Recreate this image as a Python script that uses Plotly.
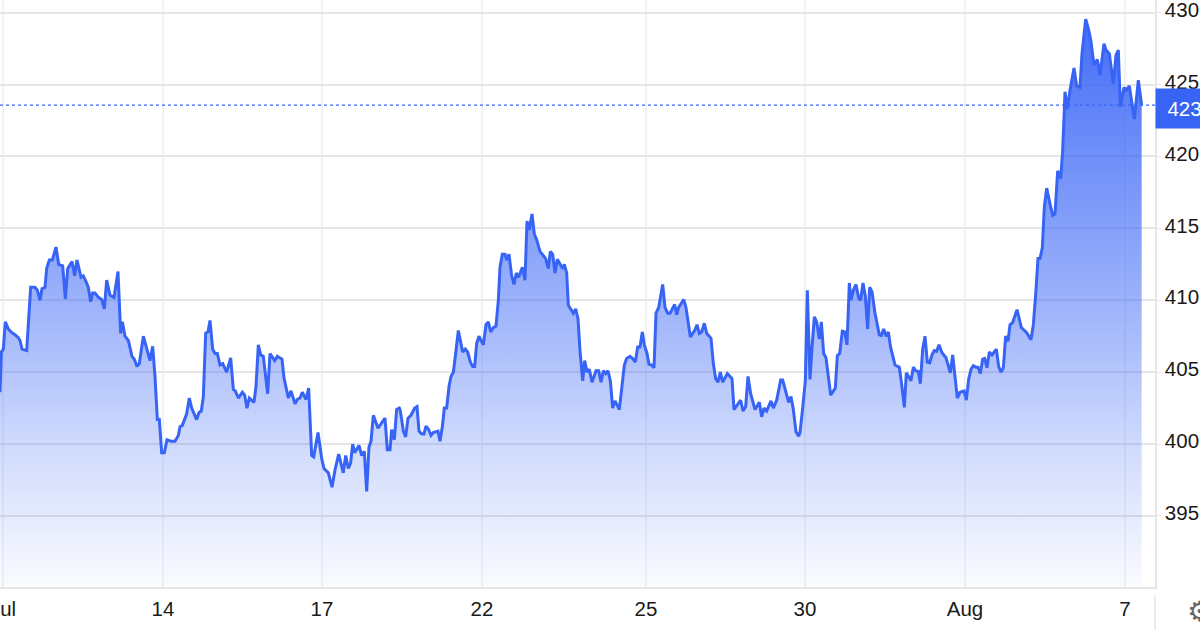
import plotly.graph_objects as go

# Time position along the axis (slots of 20 s of the reference scale), one list per stretch, and prices
slots_a = [0,4,10,16,25,35,45,55,60,66,80,85,92,105,112,120,126,135,140,148,157,168,176,188,196,203,216,224,231,243,250,258,265,272,278,285,295,305,313,320,330,342,354,362,367,375,385,396,403,411,418,430,450,458,465,472,478,485,493,501,512,525,535,540,547,560,568,575,590,597,604,610,617,624,630,638,645,652,660,668,680,692,700,706,715,727,734,741,748,762,768,775,782,790,803,810,824,832,846,852,865,873,885,892,900,907,918,926,935,941,954,965,972,985,996,1005,1016,1030,1037,1045,1052,1058,1064,1077,1085,1093,1100,1107,1113,1120,1134,1155,1162,1170,1175,1183,1190,1198]
price_a = [403.6,406.4,406.6,408.5,408.0,407.75,407.6,407.4,407.2,406.6,406.5,408.1,410.9,410.9,410.7,410.0,410.8,410.9,412.2,412.8,412.8,413.7,412.5,412.4,410.1,412.2,412.7,411.7,412.8,411.6,411.7,411.3,410.9,409.9,410.5,410.5,410.2,410.05,409.4,411.4,410.35,410.2,412.0,407.7,408.5,407.5,407.2,406.1,405.9,405.4,405.6,407.5,405.8,406.8,404.7,401.7,401.7,399.4,399.4,400.3,400.2,400.2,400.6,401.2,401.3,402.1,403.2,402.5,401.7,402.2,402.3,403.3,407.7,407.8,408.6,406.6,406.3,406.3,405.5,405.6,405.0,406.0,403.8,403.7,403.2,403.6,403.4,402.5,403.2,402.9,404.0,406.9,406.2,406.1,403.5,406.3,405.8,406.1,405.9,404.6,403.2,403.7,402.8,403.1,403.2,403.6,403.1,403.9,399.2,399.1,400.8,399.0,398.3,398.0,397.0,398.2,399.3,398.0,399.2,398.3,398.7,400.0,399.4,399.9,399.2,399.5,396.7,399.8,400.2,402.0,401.1,401.8,399.6,399.6,401.0,400.3,402.4,402.5]

slots_b = [0,5,10,17,24,33,44,51,57,65,72,78,86,93,100,114,120,127,133,140,147,153,160,167,175,188,196,203,211,218,224,230,237,250,258,265,272,280,288,295,300,307,315,320,327,335,342,349,356,367,375,381,388,396,403,410,420,437,445,451,458,465,472,488,493,500,505,520,527,534,540,548,554,561,568,576,588,596,603,610,617,624,631,638,645,658,665,673,680,690,698,706,713,720,727,733,741,747,755,762,768,776,788,795,803,810,824,830,836,851,858,871,884,891,898,905,913,920,933,940,947,954,961,968,982,996,1002,1022,1029,1037,1044,1052,1065,1078,1085,1092,1100,1113,1120,1130,1142,1148,1166,1173,1180,1188,1196]
price_b = [402.4,401.7,400.9,400.5,401.8,402.0,402.5,402.6,400.9,400.7,400.7,401.25,401.0,400.6,400.8,400.9,400.2,401.2,402.5,402.5,404.0,404.7,405.0,406.3,407.9,406.4,406.6,406.4,405.7,405.4,405.4,407.0,407.5,406.9,408.3,408.5,407.8,408.1,408.2,410.0,412.3,413.2,413.2,412.8,413.2,411.7,411.1,411.9,411.6,412.3,411.4,415.5,414.9,416.0,414.6,414.2,413.4,412.9,412.2,413.4,413.2,411.9,412.85,412.2,412.5,411.9,409.65,409.1,409.4,408.7,406.5,404.4,405.8,405.0,405.2,404.3,405.1,405.1,404.3,405.1,404.9,405.1,404.4,402.5,403.0,402.4,403.75,405.5,405.95,406.1,405.95,405.7,406.75,406.75,407.8,406.9,406.3,405.55,405.5,405.3,409.1,409.5,411.1,409.5,409.1,409.1,409.7,409.0,409.5,410.05,409.5,407.45,407.9,408.3,407.7,407.8,408.4,407.7,407.35,405.6,404.55,404.3,405.0,404.3,404.9,404.55,402.4,403.05,402.3,402.6,404.7,403.5,402.4,402.9,401.9,402.5,402.3,403.0,402.5,403.05,404.45,404.45,402.9,403.3,402.4,400.85,400.55]

slots_c = [0,8,16,22,30,36,43,50,58,64,71,78,85,92,106,112,119,127,134,141,148,153,160,168,176,182,189,196,203,209,216,225,238,244,251,258,265,272,285,298,305,313,319,333,340,347,355,361,368,375,382,389,396,403,410,417,426,438,451,458,472,480,492,499,506,513,520,527,534,541,548,554,561,568,576,589,596,603,610,617,624,630,638,651,664,680,693,700,707,714,720,727]
price_c = [400.8,402.5,404.4,410.7,404.5,406.7,408.85,408.5,407.3,408.5,406.3,406.0,404.5,403.4,403.9,406.15,406.3,407.85,407.8,406.9,411.2,410.0,410.7,411.1,410.15,410.0,411.2,410.3,408.0,410.9,410.6,409.1,407.6,407.55,408.0,407.5,407.8,406.7,405.5,405.35,404.15,402.55,404.95,404.4,405.35,405.1,405.05,404.2,406.6,407.5,405.7,405.65,406.2,406.5,406.45,406.9,406.35,406.0,404.95,406.2,403.2,403.6,403.7,403.05,404.5,405.2,405.45,405.35,405.35,404.9,405.9,405.95,405.3,406.4,406.2,406.6,405.4,405.0,405.3,407.5,407.15,408.3,408.45,409.35,408.1,407.75,407.25,408.3,410.4,412.9,412.9,413.65]

slots_d = [73,80,90,98,105,113,122,128,135,142,150,162,170,180,186,197,206,213,222,232,240,252,258,268,280,288,295,301,312,318,328,343,355,365]
price_d = [416.5,417.8,416.7,415.9,416.0,419.0,418.45,420.4,424.5,423.3,424.6,426.15,424.9,424.8,427.15,429.55,428.8,428.0,426.35,426.75,425.65,427.85,427.4,427.15,425.05,427.05,427.4,423.45,424.8,424.6,424.9,422.6,425.3,423.55]

stretch_offsets = [0, 1200, 2400, 3060]

tick_slots = [9, 489, 966, 1446, 1938, 2415, 2895, 3375]
tick_labels = ["Jul", "14", "17", "22", "25", "30", "Aug", "7"]
price_ticks = [395, 400, 405, 410, 415, 420, 425, 430]
last_price = 423.57
last_label = "423"

x = ([s + stretch_offsets[0] for s in slots_a] + [s + stretch_offsets[1] for s in slots_b]
     + [s + stretch_offsets[2] for s in slots_c] + [s + stretch_offsets[3] for s in slots_d])
y = price_a + price_b + price_c + price_d

BLUE = "#3864f6"
fig = go.Figure()
fig.add_trace(go.Scatter(
    x=x, y=y, mode="lines", line=dict(color=BLUE, width=3, shape="linear"),
    fill="tozeroy",
    fillgradient=dict(
        type="vertical", start=390, stop=430,
        colorscale=[[0, "rgba(56,100,246,0.02)"], [0.25, "rgba(56,100,246,0.24)"],
                    [0.5, "rgba(56,100,246,0.5)"], [0.75, "rgba(56,100,246,0.72)"],
                    [1, "rgba(56,100,246,0.95)"]],
    ),
    hoverinfo="skip", showlegend=False,
))

fig.update_layout(
    width=1200, height=630, autosize=False,
    margin=dict(l=0, r=45, t=0, b=43),
    paper_bgcolor="white", plot_bgcolor="white",
    font=dict(family="Liberation Sans, Arial, sans-serif", size=20, color="#1a1a1a"),
    showlegend=False,
    xaxis=dict(
        range=[0, 3465], tickmode="array", tickvals=tick_slots, ticktext=tick_labels,
        automargin=False, ticklabeloverflow="allow",
        showgrid=True, gridcolor="#eff3f8", gridwidth=1.5,
        showline=True, linecolor="#e6e6e6", linewidth=2,
        ticks="", ticklabelstandoff=2, zeroline=False,
        tickfont=dict(size=20.5, color="#1a1a1a"),
    ),
    yaxis=dict(
        side="right", range=[390.06, 430.88], tickmode="array", tickvals=price_ticks,
        automargin=False, ticklabeloverflow="allow",
        showgrid=True, gridcolor="#e6e6e6", gridwidth=1.5,
        showline=True, linecolor="#e6e6e6", linewidth=1.5,
        ticks="outside", ticklen=4, tickcolor="#e6e6e6", zeroline=False,
        ticklabelstandoff=0, ticklabelshift=-3, tickfont=dict(size=20.5, color="#1a1a1a"),
    ),
    shapes=[
        dict(type="line", xref="paper", yref="y", x0=0, x1=1, y0=last_price, y1=last_price,
             line=dict(color=BLUE, width=1.2, dash="dot")),
        dict(type="line", xref="paper", yref="paper", x0=1, x1=1, y0=-0.014, y1=-0.08,
             line=dict(color="#e6e6e6", width=1.5)),
    ],
    annotations=[
        dict(xref="paper", yref="y", x=1, y=last_price, yshift=-3.5, xanchor="left", yanchor="middle",
             text="  " + last_label, showarrow=False, width=45, height=39, align="left", bgcolor=BLUE,
             font=dict(size=20.5, color="white"), borderpad=0),
        dict(xref="paper", yref="paper", x=1.0, y=0, xshift=30, yshift=-24, xanchor="left", yanchor="middle",
             text="⚙", showarrow=False, font=dict(family="DejaVu Sans", size=28, color="#666666")),
    ],
)

fig.write_html("out.html", post_script="document.body.style.margin='0';", config=dict(displayModeBar=False))
